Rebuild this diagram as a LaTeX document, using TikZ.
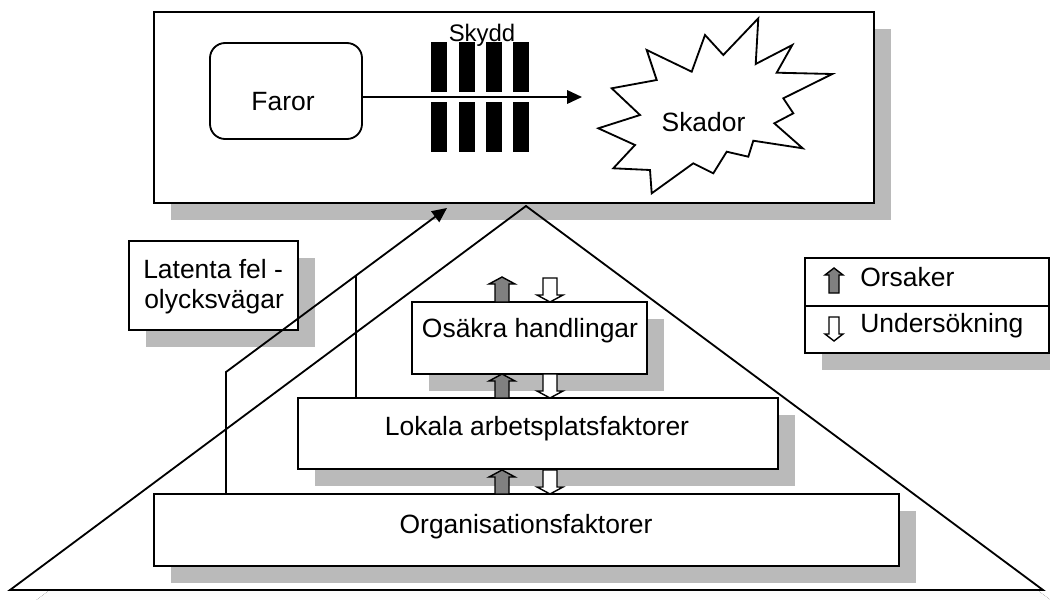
\documentclass[tikz,border=0pt]{standalone}
\usepackage{fontspec}
\setmainfont{Liberation Sans}
\usetikzlibrary{arrows.meta,shadows}
\definecolor{shade}{RGB}{186,186,186}
\definecolor{causegray}{RGB}{128,128,128}

% rectangular box node given by its corners (x1,y1) and (x2,y2)
\newcommand{\boxnode}[6][]{%
  \node[frame,#1, minimum width={(#5-#3)*0.025cm}, minimum height={(#6-#4)*0.025cm}]
    (#2) at ({(#3+#5)/2},{(#4+#6)/2}) {};}
% grey upward block arrow: x, tip y, base y, half shaft, half head
\newcommand{\causeup}[5]{%
  \filldraw[blk, fill=causegray] (#1-#4,#3) -- (#1-#4,#2+7) -- (#1-#5,#2+7) -- (#1,#2)
    -- (#1+#5,#2+7) -- (#1+#4,#2+7) -- (#1+#4,#3) -- cycle;}
% white downward block arrow: x, top y, tip y, half shaft, half head
\newcommand{\probedown}[5]{%
  \filldraw[blk, fill=white] (#1-#4,#2) -- (#1-#4,#3-7) -- (#1-#5,#3-7) -- (#1,#3)
    -- (#1+#5,#3-7) -- (#1+#4,#3-7) -- (#1+#4,#2) -- cycle;}

\begin{document}
\begin{tikzpicture}[x=0.025cm,y=-0.025cm,
  frame/.style={rectangle, draw=black, line width=1.5pt, fill=white, inner sep=0pt, outer sep=0pt},
  shadowed/.style={drop shadow={shadow xshift=0.425cm, shadow yshift=-0.425cm, fill=shade, opacity=1}},
  lbl/.style={inner sep=0pt, font=\fontsize{18.8pt}{22.5pt}\selectfont},
  wire/.style={line width=1.3pt},
  blk/.style={line width=1pt, line join=miter},
  tip/.style={-{Triangle[length=10.5pt,width=9.5pt]}}
]
\useasboundingbox (0,0) rectangle (1050,599);
\clip (0,0) rectangle (1050,599);

% pyramid: shadow and white body
\coordinate (bl) at (10,590);
\coordinate (apex) at (526,206);
\coordinate (br) at (1043,590);
\fill[shade] ([shift={(17,17)}]bl) -- ([shift={(17,17)}]apex) -- ([shift={(17,17)}]br) -- cycle;
\fill[white] (bl) -- (apex) -- (br) -- cycle;

% upper panel: hazards, barriers, damage
\boxnode[shadowed]{top}{154}{12}{874}{203}
\draw[line width=1.3pt, line join=miter] (bl) -- (apex) -- (br) -- cycle;

\node[frame, rounded corners=0.38cm, line width=1.3pt, minimum width=3.8cm, minimum height=2.4cm]
  (faror) at (286,91) {};
\node[lbl, anchor=base] (farortxt) at (283,110) {Faror};

\foreach \bx in {431,458.5,486,513}{
  \fill (\bx,42) rectangle (\bx+16,92);
  \fill (\bx,102) rectangle (\bx+16,152);
}
\node[inner sep=0pt, anchor=base, font=\fontsize{17pt}{20pt}\selectfont] (skydd) at (482,41) {Skydd};

\draw[line width=1.3pt, line join=miter, fill=white]
  (646.7,50) -- (691.7,71.7) -- (705,35) -- (723.3,55) -- (758.3,18.3) -- (755.7,64)
  -- (792.3,45) -- (776.7,72.7) -- (832.3,74) -- (783.3,98.3) -- (793.3,113.3)
  -- (774.3,123.3) -- (802.7,148.3) -- (753.3,140.7) -- (748.3,156.7) -- (726.7,151.7)
  -- (713.3,173.3) -- (693.3,163.3) -- (651.7,193.3) -- (650,170) -- (613.3,168.3)
  -- (635,145) -- (598.3,128.3) -- (640,115) -- (611.7,88.3) -- (656.7,80) -- cycle;
\node[lbl, anchor=base] (skador) at (703.5,131) {Skador};

\coordinate (hit) at (582,97);
\draw[wire, tip] (faror.east |- hit) -- (hit);

% layers of the pyramid
\boxnode[shadowed]{osakra}{412}{302}{647}{374}
\node[lbl, anchor=base] (osakratxt) at (530,337) {Osäkra handlingar};
\boxnode[shadowed]{lokala}{298}{398}{778}{469}
\node[lbl, anchor=base] (lokalatxt) at (537,435) {Lokala arbetsplatsfaktorer};
\boxnode[shadowed]{org}{154}{494}{899}{566}
\node[lbl, anchor=base] (orgtxt) at (526,533) {Organisationsfaktorer};

% causes (grey, up) and investigation (white, down)
\causeup{502}{277}{302}{7}{13}
\probedown{550}{278}{302}{7}{13}
\causeup{502}{374}{398}{7}{13}
\probedown{550}{374}{398}{7}{13}
\causeup{502}{470}{494}{7}{13}
\probedown{550}{470}{494}{7}{13}

% latent failure pathways
\boxnode[shadowed]{latent}{129}{241}{298}{330}
\node[lbl, anchor=base west] (lat1) at (143,278) {Latenta fel -};
\node[lbl, anchor=base west] (lat2) at (144,308) {olycksvägar};
\coordinate (bend) at (226,372);
\coordinate (hitT) at (447,208);
\coordinate (join) at (356,275.5);
\draw[wire, tip, line join=miter] (org.north -| bend) -- (bend) -- (hitT);
\draw[wire] (lokala.north -| join) -- (join);

% legend
\boxnode[shadowed]{legend}{805}{258}{1049}{353}
\coordinate (divy) at (0,306);
\draw[line width=1.5pt] (legend.west |- divy) -- (legend.east |- divy);
\causeup{834}{268}{293}{5}{9}
\probedown{834}{317}{341}{5}{9}
\node[lbl, anchor=base west] (orsaker) at (860,286) {Orsaker};
\node[lbl, anchor=base west] (unders) at (860,332) {Undersökning};
\end{tikzpicture}
\end{document}
